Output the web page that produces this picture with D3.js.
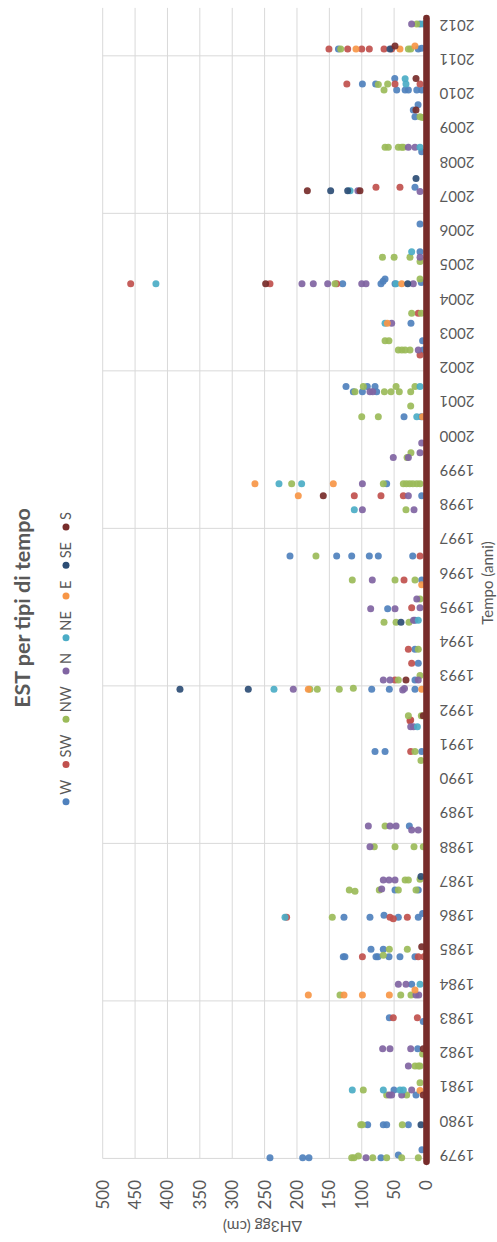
<!DOCTYPE html>
<html><head><meta charset="utf-8">
<script src="https://cdn.jsdelivr.net/npm/d3@7"></script>
<style>
body{margin:0;background:#fff}
svg{display:block}
text{font-family:Lato,"Liberation Sans",sans-serif;fill:#595959}
</style>
</head><body>
<svg id="c" width="497" height="1242"></svg>
<script>
// ---- data ----
const title = "EST per tipi di tempo";
const xTitle = "Tempo (anni)";
const yTitle = "ΔH3gg (cm)";
const seriesNames = ["W","SW","NW","N","NE","E","SE","S"];
const seriesColors = ["#4F81BD","#C0504D","#9BBB59","#8064A2","#4BACC6","#F79646","#2C4D75","#772C2A"];
const yearLabels = [1979,1980,1981,1982,1983,1984,1985,1986,1987,1988,1989,1990,1991,1992,1993,1994,1995,1996,1997,1998,1999,2000,2001,2002,2003,2004,2005,2006,2007,2008,2009,2010,2011,2012];
const valueTicks = [0,50,100,150,200,250,300,350,400,450,500];
const timeGrid = [1978.9,1983.5,1988.1,1992.7,1997.3,2001.9,2006.5,2011.1];
const timeDomain = [1978.9, 2012.5];

// each point: [time (fractional year), ΔH3gg cm]
const W = [
[2012.03,10],
[2011.30,136],[2011.30,12.7],[2011.32,7.4],
[2010.44,49],[2010.28,99],[2010.28,78.5],
[2010.10,46],[2010.10,33],[2010.10,28],[2010.10,15],[2010.10,7.4],
[2009.67,13],[2009.52,20.4],[2009.32,17.8],
[2008.30,7.4],[2007.26,17.8],[2006.19,10],[2005.38,10],
[2004.44,129.4],[2004.44,70.3],[2004.44,48.6],[2004.48,8],[2004.58,64],[2004.52,67],
[2003.29,24],[2002.78,6],[2002.51,5],
[2001.44,124.3],[2001.44,91.4],[2001.44,79.5],
[2001.29,113],[2001.29,99],[2001.29,77],
[2000.56,34.7],[2000.56,8],
[1998.60,61.5],[1998.25,7.4],
[1996.49,210.8],[1996.49,138.7],[1996.49,115.5],[1996.49,88.3],[1996.49,74.4],[1996.49,21.3],
[1995.79,7.4],[1994.95,60],[1994.62,17.8],
[1993.77,17.8],[1993.36,12.7],[1992.87,17.8],
[1992.60,84.6],[1992.60,57.4],[1992.60,17.8],
[1990.78,79.5],[1990.78,64],[1990.78,7.4],
[1988.61,26.5],
[1986.74,48.6],[1986.74,12.7],
[1985.94,127.4],[1985.94,87.3],[1986.00,65.6],[1985.94,43.5],[1985.94,12.7],[1986.05,6],
[1985.01,85.7],[1985.01,66.7],
[1984.79,128.5],[1984.79,126],[1984.79,78],[1984.79,75],[1984.79,57.9],[1984.79,41],[1984.79,17.8],
[1983.99,22.9],[1983.01,57.4],[1982.90,5],[1982.10,13.6],
[1980.90,50.2],[1980.75,16.2],
[1979.88,90.8],[1979.88,66.7],[1979.88,61.5],[1979.88,28],
[1978.92,241.7],[1978.92,191.2],[1978.92,181.5],[1978.92,70.3],[1979.00,43.5],[1979.15,7]
];
const SW = [
[2011.30,150.6],[2011.30,121.7],[2011.30,100],[2011.30,88.3],[2011.30,65.6],[2011.30,53.8],
[2010.28,123],[2010.28,48.6],[2010.28,10],
[2007.26,78],[2007.26,41],
[2004.44,456.8],[2004.44,241.7],[2004.44,138.7],
[2003.58,12.7],[2002.36,10],
[1998.25,111.5],[1998.25,70.3],[1998.25,35.8],
[1996.49,10],[1995.79,34.7],[1994.98,22.9],
[1993.77,28],[1993.36,22.9],[1992.87,48.6],
[1991.70,24.4],[1991.68,25.5],[1990.78,24.4],
[1985.94,216],[1985.94,56.4],[1985.90,51.3],[1985.94,29.6],
[1984.79,99],[1984.79,12.7],[1984.79,4],
[1983.01,51.3],[1983.01,14.1]
];
const NW = [
[2012.03,15],
[2011.30,132.5],[2011.30,28],[2011.30,24.4],
[2010.26,74.4],[2010.28,60],[2010.10,65.6],
[2009.32,10],[2009.30,6],
[2008.43,64],[2008.43,59],[2008.43,43.5],[2008.43,38.3],[2008.43,35.8],
[2005.22,68],[2005.22,50],[2005.22,25.5],[2005.09,10],
[2004.44,141.3],[2004.58,10],
[2003.58,22.9],[2003.58,8],
[2002.78,64],[2002.78,58],
[2002.51,43.5],[2002.51,38],[2002.51,33],[2002.51,25.5],
[2001.44,97.6],[2001.44,47],[2001.44,17.8],
[2001.29,110.4],[2001.29,65],[2001.29,54.8],[2001.29,42],[2001.29,24.4],
[2000.87,24.4],[2000.56,100],[2000.56,74.4],
[1999.51,24],[1999.37,30],
[1998.60,208.2],[1998.60,66.7],[1998.60,35.8],[1998.60,31],[1998.60,26],[1998.60,21],[1998.60,15],[1998.60,10],
[1997.84,31.7],[1996.49,170.7],
[1995.79,114.6],[1995.79,48.6],[1995.79,17.8],[1995.24,10],
[1994.56,65.6],[1994.56,47],[1994.56,27],
[1993.77,12.7],[1993.00,10],[1992.87,43.5],
[1992.60,180],[1992.60,168.6],[1992.60,134.7],[1992.63,113],
[1991.83,28],[1991.83,8],[1990.78,17.8],[1990.52,8.5],
[1988.61,64],
[1988.00,80.6],[1988.00,48.6],[1988.00,19.3],[1988.00,5],
[1987.03,33],[1987.03,28],[1987.05,10],
[1986.74,119.2],[1986.70,110.4],[1986.74,72.9],[1986.74,43.5],[1986.74,16.2],
[1985.94,145.5],[1985.01,57.4],[1985.01,29.6],[1984.83,66.7],
[1983.67,133.6],[1983.67,39.8],[1983.67,24],
[1981.95,6],[1981.60,17.8],[1981.60,12.7],[1981.60,10],[1981.11,10],
[1980.90,97.6],[1980.75,61.5],[1980.75,30.6],
[1979.88,101.6],[1979.88,99],[1979.88,37.4],
[1978.92,115.5],[1978.92,112],[1978.97,105.3],[1978.92,83],[1978.92,61.5],[1978.92,38.3],[1978.92,12.7]
];
const N = [
[2012.03,23],
[2008.43,28],[2008.43,17.8],
[2007.16,106],[2007.14,10],[2005.22,10],
[2004.44,192.3],[2004.44,174.8],[2004.44,152.6],[2004.44,100],[2004.44,93.4],[2004.44,20.4],
[2003.29,53.8],[2002.51,12.7],
[2001.29,87.3],[2001.29,83],
[1999.79,7.4],[1999.51,10],[1999.37,51.3],[1999.37,28],
[1998.60,99],[1998.25,28],[1997.84,99],[1997.84,19.3],
[1995.79,83.7],[1995.24,15],[1994.98,10],
[1994.95,86.2],[1994.95,48.6],[1994.62,20],
[1992.87,66.7],[1992.87,56.4],[1992.87,12.7],
[1992.60,205.7],[1992.58,36.8],[1992.62,34],
[1991.51,24.4],[1991.51,20],
[1988.61,89.8],[1988.61,56.4],[1988.61,47],
[1988.49,22.9],[1988.49,12.7],[1988.00,87.3],
[1987.03,66.7],[1987.03,57.9],[1987.03,48.6],[1986.77,69.2],
[1983.99,43.5],[1983.99,31.7],[1983.67,16.2],[1983.67,12],
[1982.10,67.7],[1982.10,56.4],[1982.10,24.4],
[1981.60,28],[1980.90,22.9],
[1980.75,57.4],[1980.75,53.8],[1980.75,38.3],
[1978.92,93.4]
];
const NE = [
[2012.03,5],[2010.43,33],[2010.28,31.7],[2008.43,10],[2007.16,118],
[2005.38,22.9],[2004.44,417.8],[2004.44,47],[2003.29,64],[2001.44,10],
[2000.56,15],[1998.60,227.8],[1998.60,192.8],[1997.84,111.5],[1994.62,12.7],
[1992.60,235.5],[1991.51,14.1],[1985.94,218.5],[1983.99,10],
[1980.90,114.6],[1980.90,66.7],[1980.90,41],[1980.90,35.8]
];
const E = [
[2011.30,108.9],[2011.30,41],[2011.39,17.8],[2004.44,38.3],[2003.29,60.5],
[2000.56,6],[1998.60,264.9],[1998.60,143.9],[1998.25,198],[1995.65,7.4],
[1992.60,182.5],[1992.60,7.4],[1983.82,17.8],
[1983.67,182.5],[1983.67,127.4],[1983.67,99],[1983.67,57.4],[1980.88,10]
];
const SE = [
[2011.30,56.4],[2007.52,16.2],[2007.16,148],[2007.16,121.7],[2004.44,29],
[1994.56,39.4],[1992.60,380.7],[1992.60,275.2],[1987.13,8.5],[1979.88,8.5]
];
const S = [
[2011.39,48.6],[2010.44,16.2],[2009.52,16.2],[2007.16,184],[2007.16,102.7],
[2004.44,248.4],[1998.25,159.4],[1992.87,31.7],[1991.83,5],[1985.08,7.4],
[1982.10,5],[1980.75,5]
];
// dense run of zero values (drawn as a continuous band)
const zeroRun = [[1978.8,0],[2012.2,0]];

const seriesData = [W,SW,NW,N,NE,E,SE,S];

// ---- drawing ----
const svg = d3.select("#c");
// value axis runs right (0) to left (500); time axis bottom (1979) to top (2012)
const x = d3.scaleLinear().domain([0,500]).range([426.5,102.7]);
const y = d3.scaleLinear().domain([1979,2012]).range([1155,25]);

const grid = svg.append("g");
grid.selectAll("line.v").data(valueTicks.filter(v=>v>0)).join("line")
  .attr("x1",d=>x(d)).attr("x2",d=>x(d))
  .attr("y1",y(timeDomain[1])).attr("y2",y(timeDomain[0]))
  .attr("stroke","#d9d9d9").attr("stroke-width",1);
grid.selectAll("line.h").data(timeGrid).join("line")
  .attr("x1",x(500)).attr("x2",x(0))
  .attr("y1",d=>y(d)).attr("y2",d=>y(d))
  .attr("stroke","#d9d9d9").attr("stroke-width",1);

// value tick labels (rotated)
svg.append("g").selectAll("text").data(valueTicks).join("text")
  .attr("transform",d=>`translate(${x(d)},1180) rotate(-90)`)
  .attr("text-anchor","end").attr("dy","0.35em")
  .style("font-size","17px").text(d=>d);

// year labels (upside down)
svg.append("g").selectAll("text").data(yearLabels).join("text")
  .attr("transform",d=>`translate(457,${y(d)}) rotate(180)`)
  .attr("text-anchor","middle").attr("dy","0.35em")
  .style("font-size","15px").text(d=>d);

// points
const pts = svg.append("g");
seriesData.forEach((arr,i)=>{
  pts.append("g").selectAll("circle").data(arr).join("circle")
    .attr("cx",d=>x(d[1])).attr("cy",d=>y(d[0])).attr("r",3.5)
    .attr("fill",seriesColors[i]).attr("fill-opacity",0.92);
});

// zero band
svg.append("path").datum(zeroRun)
  .attr("d",d3.line().x(d=>x(d[1])).y(d=>y(d[0])))
  .attr("stroke","#772C2A").attr("stroke-width",6.6).attr("stroke-linecap","round").attr("fill","none");

// titles
svg.append("text").attr("transform","translate(30,608) rotate(-90)")
  .attr("text-anchor","middle").style("font-size","21.5px").style("font-weight","bold").text(title);
svg.append("text").attr("transform","translate(488,583) rotate(-90)")
  .attr("text-anchor","middle").attr("dy","0.35em").style("font-size","15px").text(xTitle);
svg.append("text").attr("transform","translate(262.5,1226) rotate(180)")
  .attr("text-anchor","middle").attr("dy","0.35em").style("font-size","15.5px").text(yTitle);

// legend (rotated, reading bottom to top)
const leg = svg.append("g").attr("transform","translate(66,0) rotate(-90)");
const items = leg.selectAll("g").data(seriesNames).join("g");
items.append("circle").attr("r",3.5).attr("fill",(d,i)=>seriesColors[i]);
items.append("text").attr("x",7).attr("dy","0.35em").style("font-size","14.5px").text(d=>d);
const widths = items.nodes().map(n=>n.querySelector("text").getComputedTextLength()+7);
const start = -801.7, endPos = -512;
const gap = ((endPos-start) - d3.sum(widths)) / (seriesNames.length-1);
let pos = start;
items.each(function(d,i){ d3.select(this).attr("transform",`translate(${pos},0)`); pos += widths[i]+gap; });
</script>
</body></html>
